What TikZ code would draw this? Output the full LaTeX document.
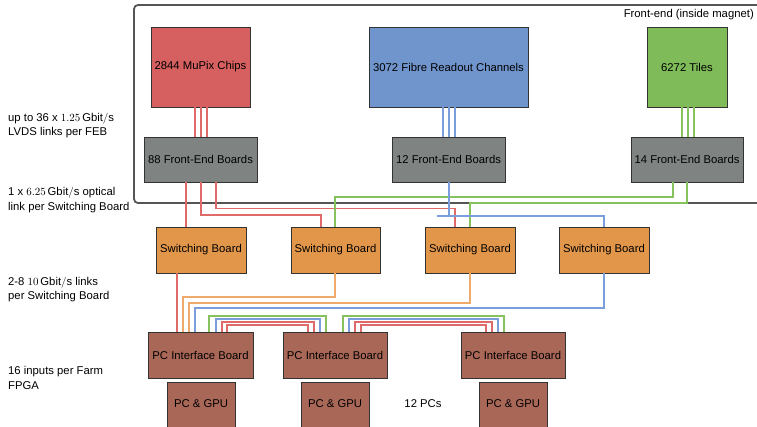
\documentclass[tikz,border=0pt]{standalone}
\usepackage{fontspec}
\setmainfont{Liberation Sans}
\begin{document}
\begin{tikzpicture}[x=1pt,y=-1pt,
  font=\fontsize{11.3}{14.8}\selectfont,
  box/.style={draw=black!80, line width=0.8pt, inner sep=0pt, align=center},
  lbl/.style={anchor=west, align=left, inner sep=0pt},
  lnk/.style={line width=1.2pt},
  lred/.style={lnk, draw=lred},
  lblue/.style={lnk, draw=lblue},
  lgreen/.style={lnk, draw=lgreen},
  lorange/.style={lnk, draw=lorange}]
\definecolor{cmupix}{HTML}{D65F5F}
\definecolor{cfibre}{HTML}{7094CC}
\definecolor{ctiles}{HTML}{80BB5A}
\definecolor{cfeb}{HTML}{7F8482}
\definecolor{csb}{HTML}{E2964A}
\definecolor{cpc}{HTML}{A96757}
\definecolor{lred}{HTML}{DE6A6A}
\definecolor{lblue}{HTML}{7A9EDC}
\definecolor{lgreen}{HTML}{86C25E}
\definecolor{lorange}{HTML}{EDAA6A}
\definecolor{cframe}{HTML}{555555}
\useasboundingbox (0,0) rectangle (757,426);

% frame
\draw[cframe, line width=1.8pt, rounded corners=4pt] (134,5) rectangle (775,203);
\node[anchor=east, inner sep=0pt] (fe) at (754,15) {Front-end (inside magnet)};

% detectors
\node[box, fill=cmupix, minimum width=99pt, minimum height=80pt] (mupix) at (200.5,67) {2844 MuPix Chips};
\node[box, fill=cfibre, minimum width=159pt, minimum height=80pt] (fibre) at (448.5,67) {3072 Fibre Readout Channels};
\node[box, fill=ctiles, minimum width=80pt, minimum height=80pt] (tiles) at (687,67) {6272 Tiles};

% front-end boards
\node[box, fill=cfeb, minimum width=113pt, minimum height=45pt] (feb1) at (200.5,159.5) {88 Front-End Boards};
\node[box, fill=cfeb, minimum width=113pt, minimum height=45pt] (feb2) at (448.5,159.5) {12 Front-End Boards};
\node[box, fill=cfeb, minimum width=112pt, minimum height=45pt] (feb3) at (687,159.5) {14 Front-End Boards};

% switching boards
\node[box, fill=csb, minimum width=90pt, minimum height=46pt] (sb1) at (201,250) {Switching Board};
\node[box, fill=csb, minimum width=89pt, minimum height=46pt] (sb2) at (335.5,250) {Switching Board};
\node[box, fill=csb, minimum width=90pt, minimum height=46pt] (sb3) at (470,250) {Switching Board};
\node[box, fill=csb, minimum width=90pt, minimum height=46pt] (sb4) at (604,250) {Switching Board};

% PC interface boards
\node[box, fill=cpc, minimum width=105pt, minimum height=46pt] (pcib1) at (200.5,355) {PC Interface Board};
\node[box, fill=cpc, minimum width=104pt, minimum height=46pt] (pcib2) at (335,355) {PC Interface Board};
\node[box, fill=cpc, minimum width=104pt, minimum height=46pt] (pcib3) at (513,355) {PC Interface Board};

% PCs
\node[box, fill=cpc, minimum width=68pt, minimum height=58pt, text depth=0pt] (pc1) at (201,411) {};
\node[box, fill=cpc, minimum width=68pt, minimum height=58pt] (pc2) at (335,411) {};
\node[box, fill=cpc, minimum width=68pt, minimum height=58pt] (pc3) at (513,411) {};
\node (pc1t) at (201,404) {PC \& GPU};
\node (pc2t) at (335,404) {PC \& GPU};
\node (pc3t) at (513,404) {PC \& GPU};
\node (pcs) at (423,404) {12 PCs};

% left labels
\node[lbl] (l1) at (8,125.5) {up to 36 x $1.25\,\mathrm{Gbit/s}$\\LVDS links per FEB};
\node[lbl] (l2) at (8,200) {1 x $6.25\,\mathrm{Gbit/s}$ optical\\link per Switching Board};
\node[lbl] (l3) at (8,289.5) {2-8 $10\,\mathrm{Gbit/s}$ links\\per Switching Board};
\node[lbl] (l4) at (8,378) {16 inputs per Farm\\FPGA};

% detector -> FEB
\foreach \x in {195,201,207} \draw[lred] (\x,0 |- mupix.south) -- (\x,0 |- feb1.north);
\foreach \x in {443,449,455} \draw[lblue] (\x,0 |- fibre.south) -- (\x,0 |- feb2.north);
\foreach \x in {682,688,694} \draw[lgreen] (\x,0 |- tiles.south) -- (\x,0 |- feb3.north);

% FEB -> switching boards
\draw[lred] (186,0 |- feb1.south) -- (186,0 |- sb1.north);
\draw[lred] (201,0 |- feb1.south) |- (321,215) -- (321,0 |- sb2.north);
\draw[lred] (216,0 |- feb1.south) |- (455,208.5) -- (455,0 |- sb3.north);
\draw[lgreen] (673,0 |- feb3.south) |- (335,197) -- (335,0 |- sb2.north);
\draw[lgreen] (687,0 |- feb3.south) |- (470,203) -- (470,0 |- sb3.north);
\draw[lblue] (449,0 |- feb2.south) -- (449,216);
\draw[lblue] (437,216) -| (604,0 |- sb4.north);

% switching boards -> PC interface board 1
\draw[lred] (177,0 |- sb1.south) -- (177,0 |- pcib1.north);
\draw[lorange] (335,0 |- sb2.south) |- (183,297) -- (183,0 |- pcib1.north);
\draw[lorange] (470,0 |- sb3.south) |- (189,303) -- (189,0 |- pcib1.north);
\draw[lblue] (604,0 |- sb4.south) |- (195,308) -- (195,0 |- pcib1.north);

% PC interface board links
\draw[lgreen] (209,0 |- pcib1.north) |- (326,316) -- (326,0 |- pcib2.north);
\draw[lblue] (216,0 |- pcib1.north) |- (320,319) -- (320,0 |- pcib2.north);
\draw[lred] (222,0 |- pcib1.north) |- (314,322) -- (314,0 |- pcib2.north);
\draw[lred] (227,0 |- pcib1.north) |- (308,325) -- (308,0 |- pcib2.north);
\draw[lgreen] (343,0 |- pcib2.north) |- (504,316) -- (504,0 |- pcib3.north);
\draw[lblue] (349,0 |- pcib2.north) |- (498,319) -- (498,0 |- pcib3.north);
\draw[lred] (355,0 |- pcib2.north) |- (492,322) -- (492,0 |- pcib3.north);
\draw[lred] (361,0 |- pcib2.north) |- (486,325) -- (486,0 |- pcib3.north);
\end{tikzpicture}
\end{document}
